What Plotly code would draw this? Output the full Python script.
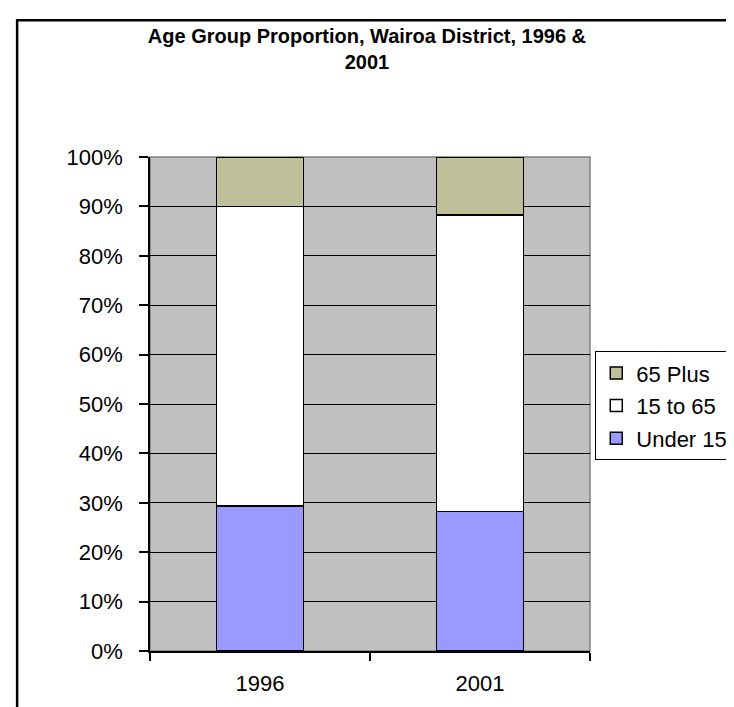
import plotly.graph_objects as go

years = ["1996", "2001"]
under_15 = [0.294, 0.282]
age_15_to_65 = [0.606, 0.601]
plus_65 = [0.100, 0.117]

series = [
    ("Under 15", under_15, "#9999FF", 3),
    ("15 to 65", age_15_to_65, "#FFFFFF", 2),
    ("65 Plus", plus_65, "#BFBF99", 1),
]

font = "Liberation Sans, Arial, sans-serif"

fig = go.Figure()
for name, vals, col, rank in series:
    fig.add_trace(go.Bar(
        x=years, y=vals, name=name, legendgroup=name, legendrank=rank,
        marker=dict(color=col, line=dict(color="black", width=1.5)),
    ))

fig.update_layout(
    width=734, height=707,
    barmode="stack", bargap=0.605,
    plot_bgcolor="#C0C0C0", paper_bgcolor="white",
    font=dict(family=font, size=22, color="black"),
    margin=dict(l=142, r=152, t=149, b=64, autoexpand=False),
    title=dict(
        text="<b>Age Group Proportion, Wairoa District, 1996 &<br>2001</b>",
        x=0.489, xanchor="center", y=0.95, yanchor="top",
        font=dict(family=font, size=20, color="black"),
    ),
    legend=dict(
        x=1.012, y=0.607, xanchor="left", yanchor="top",
        traceorder="grouped", tracegroupgap=1,
        bordercolor="black", borderwidth=1,
        bgcolor="white", font=dict(size=22),
    ),
    showlegend=True,
)

fig.update_yaxes(
    range=[0, 1], dtick=0.1, tickformat=".0%",
    showgrid=True, gridcolor="black", gridwidth=1,
    showline=True, linecolor="black", linewidth=1.5,
    ticks="outside", ticklen=9, tickcolor="black", tickwidth=1.5,
    ticklabelstandoff=12, zeroline=False,
)
fig.update_xaxes(
    showline=True, linecolor="black", linewidth=1.5,
    ticks="outside", tickson="boundaries", ticklen=8,
    tickcolor="black", tickwidth=1.5, ticklabelstandoff=12,
    showgrid=False,
)

# grey plot-area frame and outer chart border (runs off the right and bottom)
fig.add_shape(type="rect", xref="paper", yref="paper", x0=0, y0=0, x1=1, y1=1,
              line=dict(color="#808080", width=1.5), layer="below")
fig.add_shape(type="rect", xref="paper", yref="paper",
              x0=-0.302, y0=-0.3, x1=1.5, y1=1.277,
              line=dict(color="black", width=2.5))

fig.write_html("out.html")
